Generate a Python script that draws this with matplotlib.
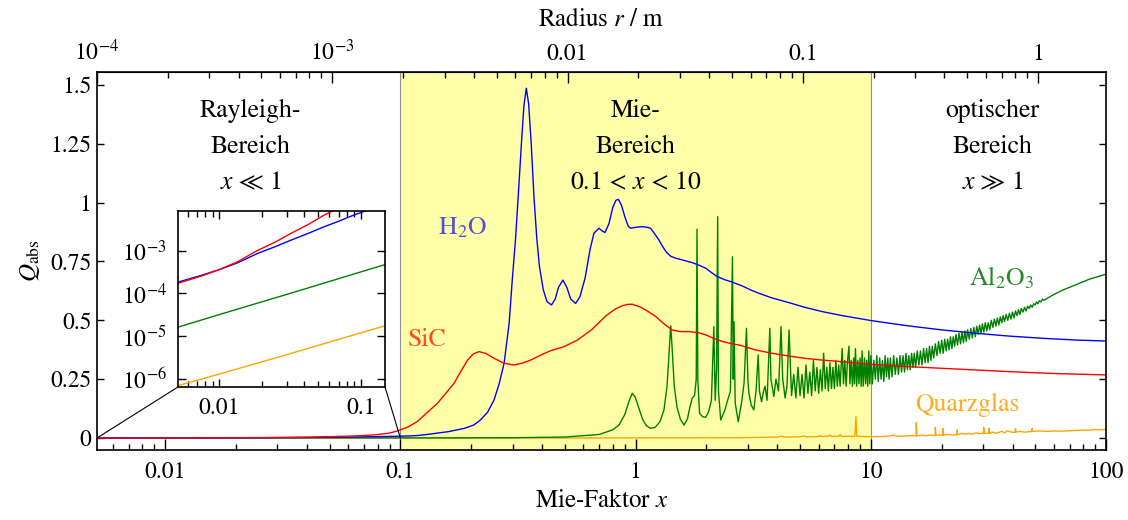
import numpy as np
import matplotlib.pyplot as plt
from matplotlib.patches import ConnectionPatch
from matplotlib.ticker import FixedLocator, FuncFormatter, LogLocator, NullLocator

plt.rcParams['font.family'] = ['STIXGeneral', 'DejaVu Sans']
plt.rcParams['mathtext.fontset'] = 'stix'
plt.rcParams['font.size'] = 17

# Mie-Faktor x = 2 pi r / lambda, Mikrowelle 2.45 GHz
WAVELENGTH = 299792458 / 2.45e9
R_PER_X = WAVELENGTH / (2 * np.pi)
X_MIN = 1e-4 / R_PER_X
X_MAX = 100

# H2O
h2o_x = [X_MIN, 0.0075, 0.01, 0.0135, 0.0185, 0.025, 0.0318, 0.042, 0.0547, 0.07, 0.085,
         0.1, 0.11, 0.12, 0.1345, 0.16, 0.187, 0.205, 0.219, 0.235, 0.25, 0.263, 0.276,
         0.29, 0.299, 0.309, 0.318, 0.327, 0.335, 0.343, 0.351, 0.36, 0.37, 0.38, 0.39,
         0.405, 0.42, 0.439, 0.455, 0.47, 0.491, 0.51, 0.53, 0.556, 0.58, 0.61, 0.64,
         0.665, 0.699, 0.72, 0.741, 0.77, 0.8, 0.825, 0.844, 0.87, 0.9, 0.93, 0.952,
         1.0, 1.068, 1.12, 1.158, 1.2, 1.257, 1.3, 1.35, 1.41, 1.48, 1.6, 1.74, 1.85,
         1.99, 2.1, 2.22, 2.4, 2.58, 2.84, 3.1, 3.34, 3.8, 4.49, 5.2, 6.21, 7.55, 10,
         14, 20.1, 28, 38.6, 55, 75, 100]
h2o_q = [1.84e-4, 2.65e-4, 3.6e-4, 5.2e-4, 8.5e-4, 1.25e-3, 1.74e-3, 2.5e-3, 3.6e-3, 4.9e-3, 6.4e-3,
         7.8e-3, 8.8e-3, 0.011, 0.017, 0.027, 0.041, 0.055, 0.0765, 0.11, 0.161, 0.23, 0.317,
         0.487, 0.671, 0.85, 1.05, 1.25, 1.41, 1.486, 1.42, 1.25, 1.02, 0.85, 0.73,
         0.63, 0.58, 0.565, 0.59, 0.64, 0.671, 0.64, 0.59, 0.572, 0.6, 0.68, 0.8,
         0.87, 0.891, 0.88, 0.873, 0.91, 0.98, 1.01, 1.014, 0.99, 0.94, 0.9, 0.891,
         0.895, 0.898, 0.895, 0.891, 0.87, 0.841, 0.815, 0.79, 0.772, 0.764, 0.755, 0.745, 0.735,
         0.721, 0.703, 0.686, 0.672, 0.662, 0.646, 0.628, 0.615, 0.595, 0.575, 0.556, 0.537, 0.52, 0.499,
         0.478, 0.459, 0.445, 0.433, 0.423, 0.416, 0.412]

# SiC
sic_x = [X_MIN, 0.0075, 0.01, 0.0135, 0.0185, 0.025, 0.0318, 0.042, 0.0547, 0.063, 0.07,
         0.08, 0.09, 0.097, 0.108, 0.118, 0.13, 0.1436, 0.156, 0.169, 0.18, 0.193, 0.204,
         0.216, 0.23, 0.25, 0.275, 0.304, 0.33, 0.358, 0.4, 0.436, 0.496, 0.566, 0.65,
         0.75, 0.82, 0.878, 0.93, 0.97, 1.05, 1.13, 1.217, 1.32, 1.43, 1.55, 1.69, 1.85,
         1.99, 2.15, 2.34, 2.55, 2.75, 3.0, 3.24, 3.8, 4.49, 5.3, 6.21, 7.55, 10, 14,
         20.1, 28, 38.6, 60, 100]
sic_q = [1.73e-4, 2.55e-4, 3.6e-4, 5.5e-4, 1.0e-3, 1.6e-3, 2.5e-3, 4.0e-3, 6.7e-3, 8.5e-3, 0.0105,
         0.0145, 0.021, 0.03, 0.047, 0.07, 0.108, 0.147, 0.19, 0.232, 0.28, 0.331, 0.357,
         0.367, 0.36, 0.339, 0.318, 0.31, 0.318, 0.331, 0.355, 0.371, 0.388, 0.416, 0.46,
         0.52, 0.548, 0.562, 0.568, 0.568, 0.556, 0.538, 0.516, 0.485, 0.459, 0.452, 0.452, 0.447,
         0.438, 0.423, 0.41, 0.401, 0.395, 0.384, 0.374, 0.36, 0.348, 0.338, 0.331, 0.324, 0.313, 0.304,
         0.296, 0.289, 0.282, 0.274, 0.268]

# Al2O3, Resonanzbereich bis x = 10
al2o3_x = [X_MIN, 0.01, 0.03, 0.1, 0.15, 0.3, 0.5, 0.7, 0.8, 0.85, 0.9, 0.94, 0.968, 0.995,
           1.03, 1.07, 1.11, 1.158, 1.21, 1.27, 1.32, 1.36, 1.39, 1.41, 1.43, 1.46, 1.5,
           1.55, 1.606, 1.66, 1.7, 1.74, 1.78, 1.81, 1.824, 1.838, 1.87, 1.93, 1.984, 2.04,
           2.1, 2.15, 2.18, 2.21, 2.232, 2.25, 2.3, 2.4, 2.45, 2.53, 2.58, 2.6, 2.62, 2.65,
           2.73, 2.82, 2.89, 2.96, 3.0, 3.03, 3.1, 3.18, 3.25, 3.32, 3.36, 3.43, 3.5, 3.55,
           3.62, 3.72, 3.76, 3.87, 3.95, 4.05, 4.15, 4.22, 4.32, 4.4, 4.49, 4.6, 4.7, 4.8,
           4.9, 5.0, 5.1, 5.2, 5.3, 5.4, 5.5, 5.6, 5.7, 5.8, 5.9, 6.0, 6.1, 6.2, 6.3, 6.4,
           6.5, 6.6, 6.7, 6.8, 6.9, 7.0, 7.1, 7.2, 7.3, 7.4, 7.55, 7.65, 7.75, 7.85, 7.95,
           8.07, 8.15, 8.25, 8.35, 8.45, 8.52, 8.6, 8.7, 8.8, 8.9, 9.0, 9.1, 9.18, 9.28,
           9.4, 9.5, 9.6, 9.7, 9.8, 9.9]
al2o3_q = [1.63e-5, 3.2e-5, 9.5e-5, 3.2e-4, 4.8e-4, 0.0012, 0.004, 0.015, 0.035, 0.055, 0.1, 0.16, 0.19, 0.175,
           0.13, 0.08, 0.053, 0.041, 0.045, 0.07, 0.12, 0.22, 0.38, 0.477, 0.38, 0.22, 0.13,
           0.08, 0.055, 0.08, 0.13, 0.169, 0.18, 0.25, 0.887, 0.25, 0.105, 0.09, 0.088, 0.11,
           0.16, 0.473, 0.16, 0.3, 0.94, 0.2, 0.0765, 0.12, 0.154, 0.2, 0.77, 0.25, 0.494, 0.15,
           0.069, 0.15, 0.232, 0.466, 0.25, 0.19, 0.14, 0.119, 0.2, 0.353, 0.2, 0.154, 0.2, 0.22,
           0.16, 0.466, 0.25, 0.176, 0.25, 0.2, 0.473, 0.25, 0.17, 0.22, 0.459, 0.18, 0.27, 0.17,
           0.3, 0.18, 0.27, 0.17, 0.31, 0.19, 0.28, 0.18, 0.33, 0.2, 0.3, 0.19, 0.29, 0.2, 0.36, 0.21,
           0.3, 0.2, 0.32, 0.21, 0.3, 0.21, 0.33, 0.22, 0.31, 0.22, 0.38, 0.23, 0.33, 0.22, 0.32,
           0.39, 0.23, 0.33, 0.22, 0.34, 0.23, 0.38, 0.22, 0.33, 0.23, 0.34, 0.22, 0.37, 0.22,
           0.34, 0.23, 0.33, 0.22, 0.37, 0.23]

# Al2O3, dichte Oszillationen ab x = 10
al2o3_osc_x = [10.0, 10.15, 10.3, 10.45, 10.6, 10.75, 10.9, 11.05, 11.2, 11.35, 11.5, 11.65, 11.8, 11.95,
               12.1, 12.3, 12.5, 12.7, 12.9, 13.1, 13.3, 13.5, 13.7, 13.9, 14.1, 14.3, 14.5, 14.7, 14.9, 15.1, 15.3, 15.5,
               15.75, 16.0, 16.25, 16.5, 16.75, 17.0, 17.25, 17.5, 17.75, 18.0, 18.25, 18.5,
               18.8, 19.1, 19.4, 19.7, 20.0, 20.3, 20.6, 20.9, 21.2, 21.5, 21.8, 22.1, 22.4, 22.7, 23.0,
               23.35, 23.7, 24.05, 24.4, 24.75, 25.1, 25.45, 25.8,
               26.2, 26.6, 27.0, 27.4, 27.8, 28.2, 28.6, 29.0, 29.4, 29.8, 30.2,
               30.65, 31.1, 31.55, 32.0,
               32.5, 33.0, 33.5, 34.0, 34.5, 35.0, 35.5, 36.0, 36.5, 37.0,
               37.6, 38.2, 38.8, 39.4, 40.0, 40.6, 41.2, 41.8, 42.4, 43.0, 43.6,
               44.3, 45.0, 45.7, 46.4, 47.1, 47.8, 48.5, 49.2, 49.9, 50.6, 51.3, 52.0,
               52.8, 53.6, 54.4, 60, 66, 74, 85, 100]
al2o3_osc_q = [0.35, 0.23, 0.33, 0.25, 0.35, 0.24, 0.34, 0.25, 0.33, 0.24, 0.35, 0.26, 0.34, 0.25,
               0.34, 0.26, 0.35, 0.27, 0.34, 0.27, 0.35, 0.28, 0.35, 0.28, 0.36, 0.29, 0.35, 0.29, 0.36, 0.30, 0.36, 0.30,
               0.37, 0.31, 0.37, 0.31, 0.38, 0.32, 0.38, 0.32, 0.39, 0.33, 0.39, 0.34,
               0.40, 0.35, 0.41, 0.36, 0.415, 0.36, 0.42, 0.37, 0.42, 0.375, 0.43, 0.38, 0.43, 0.39, 0.44,
               0.395, 0.445, 0.40, 0.45, 0.405, 0.455, 0.41, 0.46,
               0.42, 0.465, 0.425, 0.47, 0.43, 0.475, 0.44, 0.48, 0.445, 0.485, 0.45,
               0.49, 0.455, 0.49, 0.46,
               0.50, 0.47, 0.505, 0.475, 0.51, 0.48, 0.515, 0.49, 0.52, 0.495,
               0.525, 0.50, 0.53, 0.505, 0.535, 0.51, 0.54, 0.52, 0.545, 0.525, 0.55,
               0.535, 0.555, 0.54, 0.56, 0.55, 0.565, 0.555, 0.57, 0.565, 0.578, 0.57, 0.583,
               0.578, 0.59, 0.585, 0.61, 0.63, 0.65, 0.675, 0.696]

# Quarzglas
quarz_x = [X_MIN, 0.01, 0.03, 0.1, 0.148, 0.5, 1, 2, 2.84, 3.5, 4.0, 4.2, 4.3, 5.0, 5.2,
           5.3, 6.0, 6.1, 6.2, 6.6, 6.7, 6.8, 7.3, 7.4, 7.5, 8.0, 8.55, 8.64, 8.72, 9.5,
           10, 11, 12, 12.5, 13, 14, 15, 15.55, 15.6, 15.7, 16.5, 17, 18, 18.75, 18.8,
           18.9, 19.5, 20.2, 20.3, 20.4, 21, 22, 23.2, 23.3, 23.4, 24.5, 25, 26, 27, 28,
           29, 30.1, 30.2, 30.3, 31.7, 31.8, 31.9, 33, 34, 36, 37, 38, 40, 41.1, 41.2,
           41.3, 43, 45, 48.4, 48.5, 48.6, 52, 56, 60, 65, 70, 75, 80, 85, 90, 95, 100]
quarz_q = [7.0e-7, 1.3e-6, 3.7e-6, 1.2e-5, 1.75e-5, 1e-4, 5e-4, 0.001, 0.0015, 0.003, 0.004, 0.008,
           0.004, 0.005, 0.009, 0.005, 0.006, 0.01, 0.006, 0.008, 0.013, 0.007, 0.007,
           0.015, 0.007, 0.007, 0.007, 0.09, 0.007, 0.006, 0.006, 0.006, 0.008, 0.012,
           0.007, 0.009, 0.01, 0.008, 0.065, 0.009, 0.012, 0.01, 0.012, 0.01, 0.045,
           0.011, 0.013, 0.012, 0.041, 0.012, 0.015, 0.013, 0.014, 0.034, 0.014, 0.02,
           0.015, 0.02, 0.016, 0.022, 0.018, 0.02, 0.045, 0.02, 0.02, 0.041, 0.02, 0.025,
           0.02, 0.028, 0.022, 0.03, 0.024, 0.025, 0.041, 0.025, 0.028, 0.025, 0.028,
           0.041, 0.028, 0.03, 0.028, 0.03, 0.029, 0.031, 0.032, 0.034, 0.033, 0.036,
           0.035, 0.037]

# bottom -> top drawing order
curves = [
    (quarz_x, quarz_q, '#ffa500'),
    (al2o3_x + al2o3_osc_x, al2o3_q + al2o3_osc_q, '#008000'),
    (h2o_x, h2o_q, '#0000ff'),
    (sic_x, sic_q, '#ff0000'),
]


def to_r(x):
    return x * R_PER_X


def to_x(r):
    return r / R_PER_X


def fmt_g(v, pos):
    return '%g' % v


def fmt_radius(v, pos):
    if v < 0.005:
        return r'$10^{%d}$' % round(np.log10(v))
    return '%g' % v


fig = plt.figure(figsize=(11.28, 5.2), dpi=100)
ax = fig.add_axes([0.086, 0.1346, 0.8946, 0.727])

ax.axvspan(0.1, 10, facecolor='#ffffaa', edgecolor='none', zorder=0)
ax.axvline(0.1, color='#909090', lw=0.8, zorder=0.5)
ax.axvline(10, color='#909090', lw=0.8, zorder=0.5)

for xs, qs, c in curves:
    ax.plot(xs, qs, color=c, lw=1.0)

ax.set_xscale('log')
ax.set_xlim(X_MIN, X_MAX)
ax.set_ylim(-0.051, 1.555)
ax.xaxis.set_major_locator(FixedLocator([0.01, 0.1, 1, 10, 100]))
ax.xaxis.set_major_formatter(FuncFormatter(fmt_g))
ax.yaxis.set_major_locator(FixedLocator([0, 0.25, 0.5, 0.75, 1, 1.25, 1.5]))
ax.yaxis.set_major_formatter(FuncFormatter(fmt_g))
ax.tick_params(which='both', direction='in', top=False, right=True, width=1.0)
ax.tick_params(axis='x', which='major', length=8, pad=8)
ax.tick_params(axis='x', which='minor', length=4.5)
ax.tick_params(axis='y', which='major', length=5, pad=4)
for s in ax.spines.values():
    s.set_linewidth(1.2)

ax.set_xlabel(r'Mie-Faktor $x$', labelpad=5, fontsize=18)
ax.set_ylabel(r'$Q_\mathrm{abs}$', labelpad=6, fontsize=18)

sec = ax.secondary_xaxis('top', functions=(to_r, to_x))
sec.xaxis.set_major_locator(FixedLocator([1e-4, 1e-3, 0.01, 0.1, 1]))
sec.xaxis.set_major_formatter(FuncFormatter(fmt_radius))
sec.tick_params(which='both', direction='in', width=1.0)
sec.tick_params(which='major', length=8, pad=5)
sec.tick_params(which='minor', length=4.5)
sec.set_xlabel(r'Radius $r$ / m', labelpad=10, fontsize=18)

# Bereiche
region_kw = dict(ha='center', va='top', fontsize=18.5, linespacing=1.68)
ax.text(0.023, 1.44, 'Rayleigh-\nBereich\n$x$ ≪ 1', **region_kw)
ax.text(1.0, 1.44, 'Mie-\nBereich\n0.1 < $x$ < 10', **region_kw)
ax.text(32.8, 1.44, 'optischer\nBereich\n$x$ ≫ 1', **region_kw)

# Stoffnamen
ax.text(0.1834, 0.892, r'H$_2$O', color='#5050d0', ha='center', va='center', fontsize=18.5)
ax.text(0.130, 0.416, 'SiC', color='#ff4a1a', ha='center', va='center', fontsize=18.5)
ax.text(36.1, 0.68, r'Al$_2$O$_3$', color='#1f8a1f', ha='center', va='center', fontsize=18.5)
ax.text(25.7, 0.14, 'Quarzglas', color='#ffad1f', ha='center', va='center', fontsize=18.5)

# Inset: Rayleigh-Bereich logarithmisch
axin = fig.add_axes([0.1578, 0.2558, 0.1835, 0.3385])
for xs, qs, c in curves:
    axin.plot(xs, qs, color=c, lw=1.0)
axin.set_xscale('log')
axin.set_yscale('log')
axin.set_xlim(X_MIN, 0.148)
axin.set_ylim(6.5e-7, 8.5e-3)
axin.xaxis.set_major_locator(FixedLocator([0.01, 0.1]))
axin.xaxis.set_major_formatter(FuncFormatter(fmt_g))
axin.yaxis.set_major_locator(LogLocator(base=10, numticks=10))
axin.yaxis.set_minor_locator(NullLocator())
axin.tick_params(which='both', direction='in', top=True, right=True, width=1.0)
axin.tick_params(which='major', length=6, pad=8)
axin.tick_params(which='minor', length=4)
for s in axin.spines.values():
    s.set_linewidth(1.2)

for xa, xb in [((0, 0), (X_MIN, 0)), ((1, 0), (0.1, 0))]:
    con = ConnectionPatch(xyA=xa, coordsA=axin.transAxes, xyB=xb, coordsB=ax.transData,
                          color='black', lw=0.8)
    fig.add_artist(con)

fig.savefig('out.png', dpi=100)
